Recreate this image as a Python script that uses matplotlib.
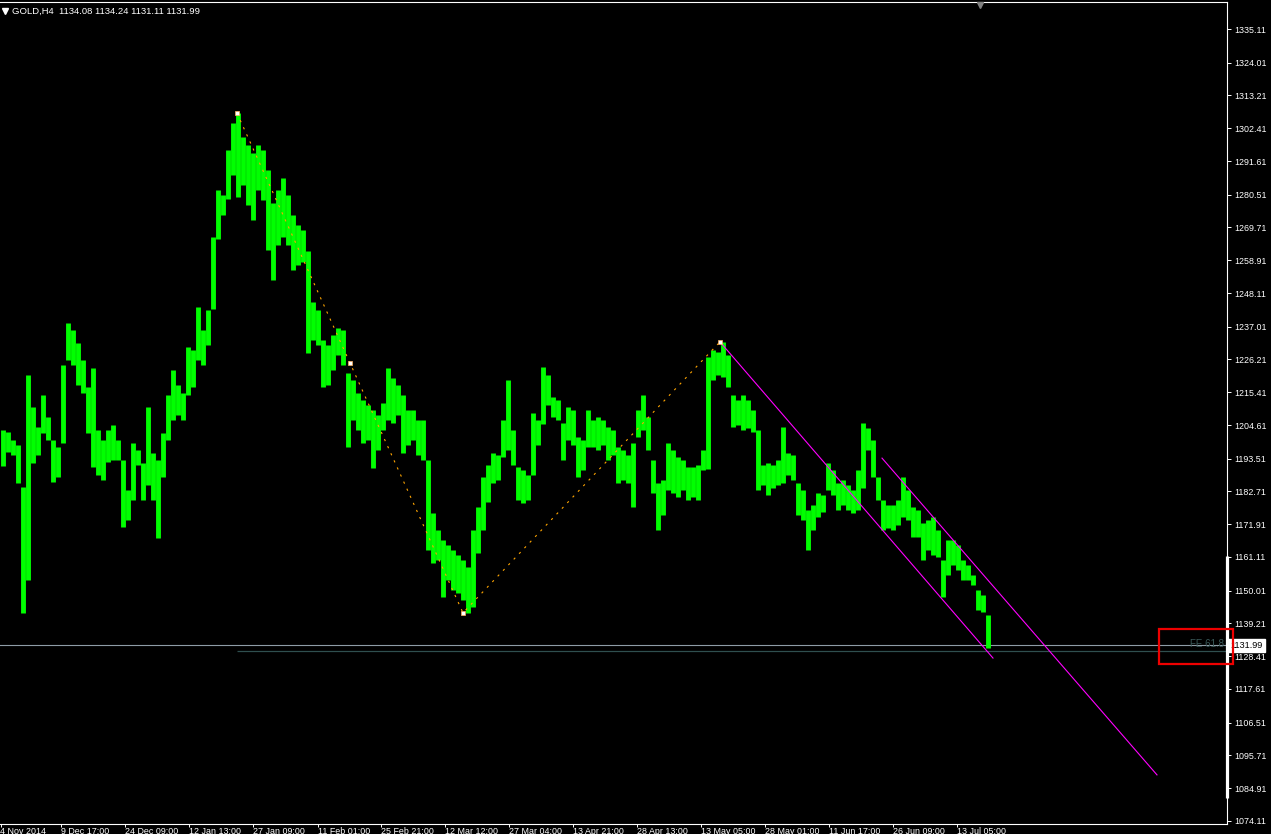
import matplotlib
matplotlib.use("Agg")
import matplotlib.pyplot as plt
import matplotlib.transforms as mtransforms
from matplotlib.patches import Rectangle

plt.rcParams['font.family'] = ['Liberation Sans', 'DejaVu Sans']

# ---------------- data ----------------
symbol = "GOLD,H4"
last_ohlc = [1134.08, 1134.24, 1131.11, 1131.99]

highs = [
    1203.0, 1202.3, 1199.7, 1198.0, 1184.2, 1221.1, 1210.5, 1203.9, 1214.5, 1207.2,
    1199.7, 1197.4, 1224.4, 1238.2, 1235.9, 1231.6, 1226.0, 1217.1, 1223.4, 1203.0,
    1199.7, 1203.0, 1204.6, 1199.7, 1193.0, 1183.2, 1198.7, 1196.4, 1192.0, 1210.5,
    1195.4, 1193.1, 1202.0, 1214.5, 1222.7, 1217.8, 1215.2, 1230.3, 1229.3, 1243.5,
    1235.9, 1242.5, 1266.6, 1282.1, 1280.4, 1295.2, 1304.1, 1307.4, 1299.5, 1296.9,
    1294.3, 1296.9, 1295.2, 1288.6, 1277.8, 1282.1, 1286.0, 1280.4, 1273.8, 1270.5,
    1268.9, 1262.0, 1245.1, 1242.5, 1232.6, 1231.0, 1234.3, 1236.6, 1235.9, 1221.7,
    1219.4, 1215.2, 1212.8, 1211.2, 1209.6, 1207.9, 1211.9, 1223.4, 1220.1, 1217.8,
    1214.5, 1209.6, 1209.6, 1206.3, 1206.3, 1193.0, 1175.6, 1170.0, 1166.7, 1165.1,
    1163.4, 1161.8, 1160.1, 1157.8, 1170.0, 1177.6, 1187.5, 1191.4, 1195.4, 1194.7,
    1206.3, 1219.4, 1203.0, 1190.8, 1189.8, 1188.1, 1208.6, 1206.3, 1223.7, 1221.1,
    1213.8, 1212.8, 1205.3, 1210.5, 1209.6, 1200.7, 1199.7, 1209.6, 1206.3, 1207.2,
    1206.3, 1203.9, 1203.0, 1197.4, 1196.4, 1194.7, 1198.7, 1209.6, 1214.5, 1207.2,
    1193.1, 1185.5, 1186.5, 1198.7, 1196.4, 1194.1, 1193.1, 1190.8, 1190.8, 1191.4,
    1196.4, 1227.0, 1229.3, 1228.7, 1232.0, 1227.7, 1214.5, 1212.8, 1214.5, 1212.8,
    1209.6, 1203.0, 1191.4, 1192.1, 1191.4, 1193.1, 1203.9, 1195.4, 1194.7, 1185.5,
    1183.2, 1176.6, 1178.2, 1182.2, 1181.6, 1192.1, 1189.8, 1185.5, 1186.5, 1184.8,
    1183.2, 1189.8, 1205.3, 1203.6, 1199.7, 1187.5, 1179.9, 1178.2, 1178.2, 1179.9,
    1187.5, 1183.2, 1177.6, 1176.6, 1172.3, 1173.3, 1174.3, 1170.0, 1160.1, 1166.7,
    1166.7, 1165.1, 1160.1, 1158.5, 1155.2, 1150.2, 1148.6, 1142.0,
]
lows = [
    1191.1, 1195.7, 1194.7, 1185.5, 1142.7, 1153.5, 1192.1, 1194.7, 1202.0, 1199.7,
    1185.8, 1187.5, 1198.7, 1226.0, 1224.4, 1217.8, 1215.2, 1202.0, 1190.8, 1188.1,
    1186.5, 1192.4, 1193.1, 1193.1, 1171.0, 1173.3, 1180.0, 1191.4, 1179.9, 1185.0,
    1179.9, 1167.4, 1187.5, 1199.7, 1206.3, 1207.9, 1206.3, 1214.5, 1217.1, 1226.0,
    1224.4, 1231.0, 1243.0, 1266.0, 1273.8, 1279.0, 1287.0, 1279.8, 1283.7, 1277.1,
    1272.2, 1282.1, 1278.8, 1262.3, 1252.4, 1263.9, 1266.6, 1263.9, 1255.7, 1257.3,
    1258.3, 1228.3, 1232.6, 1231.0, 1217.1, 1217.8, 1222.7, 1227.7, 1224.4, 1197.4,
    1206.3, 1203.0, 1198.7, 1199.7, 1190.4, 1196.4, 1203.0, 1206.3, 1205.3, 1207.9,
    1195.4, 1198.0, 1199.7, 1194.7, 1193.1, 1163.4, 1159.1, 1160.1, 1147.9, 1153.5,
    1150.2, 1149.2, 1146.9, 1142.7, 1144.6, 1162.4, 1170.0, 1179.2, 1185.5, 1186.5,
    1194.1, 1196.4, 1191.4, 1179.9, 1178.9, 1179.9, 1188.0, 1198.0, 1205.0, 1211.2,
    1207.2, 1206.3, 1193.1, 1199.7, 1198.0, 1187.5, 1189.8, 1197.4, 1197.4, 1196.4,
    1198.0, 1193.1, 1194.7, 1185.5, 1186.5, 1185.5, 1177.6, 1200.7, 1203.0, 1196.4,
    1182.2, 1170.0, 1175.0, 1183.2, 1182.2, 1180.9, 1183.2, 1179.9, 1180.9, 1179.9,
    1189.8, 1190.0, 1219.4, 1221.1, 1220.4, 1217.1, 1203.9, 1204.6, 1203.0, 1203.6,
    1202.3, 1183.2, 1184.8, 1181.6, 1183.9, 1184.8, 1185.5, 1188.1, 1186.5, 1175.0,
    1173.3, 1163.4, 1170.0, 1174.3, 1175.9, 1183.2, 1181.6, 1176.6, 1178.2, 1176.6,
    1175.6, 1176.6, 1184.0, 1196.4, 1187.5, 1179.9, 1170.0, 1170.7, 1170.0, 1171.6,
    1174.3, 1173.3, 1167.7, 1167.7, 1160.1, 1163.4, 1161.8, 1161.1, 1147.9, 1155.2,
    1158.5, 1156.8, 1153.5, 1153.5, 1151.9, 1143.6, 1143.0, 1131.1,
]

price_ticks = [1335.11, 1324.01, 1313.21, 1302.41, 1291.61, 1280.51, 1269.71,
               1258.91, 1248.11, 1237.01, 1226.21, 1215.41, 1204.61, 1193.51,
               1182.71, 1171.91, 1161.11, 1150.01, 1139.21, 1128.41, 1117.61,
               1106.51, 1095.71, 1084.91, 1074.11]

time_labels = ['4 Nov 2014', '9 Dec 17:00', '24 Dec 09:00', '12 Jan 13:00',
               '27 Jan 09:00', '11 Feb 01:00', '25 Feb 21:00', '12 Mar 12:00',
               '27 Mar 04:00', '13 Apr 21:00', '28 Apr 13:00', '13 May 05:00',
               '28 May 01:00', '11 Jun 17:00', '26 Jun 09:00', '13 Jul 05:00']
time_tick_bars = [-0.4, 11.7, 24.5, 37.3, 50.1, 63.1, 75.7, 88.5, 101.3,
                  114.1, 126.9, 139.7, 152.5, 165.3, 178.1, 190.9]

# Fibonacci expansion anchors (A, B, C)
fib_bars = [46.9, 92.1, 143.5]
fib_prices = [1307.4, 1142.7, 1232.0]
fe_ratio = 0.618

# descending channel (magenta)
chan_lower_bars, chan_lower_prices = [143.5, 198.1], [1232.0, 1127.8]
chan_upper_bars, chan_upper_prices = [175.9, 230.9], [1193.7, 1089.3]

bid = last_ohlc[3]
range_marker = [1161.4, 1081.7]      # white bar on price scale
highlight_prices = [1125.9, 1137.4]  # red box around FE level / bid

# ---------------- figure ----------------
W, H = 1271, 834
fig = plt.figure(figsize=(W / 100, H / 100), dpi=100, facecolor='black')
ax = fig.add_axes([0, 10 / H, 1227 / W, 822 / H])
ax.set_facecolor('black')
ax.set_xlim(-0.5, 244.9)
ax.set_ylim(1073.12, 1344.01)

idx = list(range(len(highs)))
ax.vlines(idx, lows, highs, colors='#00FF00', linewidth=3.5, capstyle='butt', zorder=3)

# bid line and FE level
ax.axhline(bid, color='#8E9CA6', lw=0.8, zorder=2)
A, B, C = fib_prices
fe_level = C - fe_ratio * (A - B)
ax.hlines(fe_level, fib_bars[0], 244.9, color='#2F4F4F', lw=0.9, zorder=2)
ax.annotate('FE 61.8', xy=(1, fe_level), xycoords=('axes fraction', 'data'),
            xytext=(-2, 1.5), textcoords='offset points', ha='right', va='bottom',
            color='#3A5858', fontsize=7, annotation_clip=False, zorder=4)

# fibonacci dotted legs
ax.plot(fib_bars, fib_prices, color='#FFA500', lw=0.8, linestyle=(0, (2, 5)), zorder=4)
mid_bar = (fib_bars[0] + fib_bars[1]) / 2
mid_price = (fib_prices[0] + fib_prices[1]) / 2
ax.plot(fib_bars + [mid_bar], fib_prices + [mid_price], 's', ms=3.2,
        mfc='white', mec='#FFB060', mew=0.5, zorder=5)

# channel
ax.plot(chan_lower_bars, chan_lower_prices, color='#FF00FF', lw=0.8, zorder=4)
ax.plot(chan_upper_bars, chan_upper_prices, color='#FF00FF', lw=0.8, zorder=4)

# spines and ticks
for s in ['top', 'right', 'bottom']:
    ax.spines[s].set_color('white')
    ax.spines[s].set_linewidth(0.8)
ax.spines['left'].set_visible(False)

ax.yaxis.tick_right()
ax.set_yticks(price_ticks)
ax.set_yticklabels([f'{p:.2f}' for p in price_ticks])
ax.tick_params(axis='y', colors='white', labelsize=6.4, length=3, width=0.7, pad=2)

ax.set_xticks(time_tick_bars)
ax.set_xticklabels(time_labels, ha='left')
ax.tick_params(axis='x', colors='white', labelsize=6.4, length=2, width=0.7, pad=0.2)

# current price label
ax.annotate(f'{bid:.2f}', xy=(1, bid), xycoords=('axes fraction', 'data'),
            xytext=(2.4, 0), textcoords='offset points', ha='left', va='center',
            color='black', fontsize=6.6, annotation_clip=False, zorder=6,
            bbox=dict(boxstyle='square,pad=0.25', fc='white', ec='white'))

# white range bar on price scale
blend = mtransforms.blended_transform_factory(ax.transAxes, ax.transData)
ax.plot([1, 1], range_marker, transform=blend, color='white', lw=2.3,
        solid_capstyle='butt', clip_on=False, zorder=6)

# red highlight box
ax.add_patch(Rectangle((0.9446, highlight_prices[0]), 0.060,
                       highlight_prices[1] - highlight_prices[0], transform=blend,
                       fill=False, ec='#EE0000', lw=1.6, clip_on=False, zorder=7))

# chart shift marker at the top
ax.plot([0.799], [0.996], marker='v', ms=5, color='#808080', transform=ax.transAxes,
        clip_on=False, zorder=6)

# header
fig.text(12 / W, 1 - 11 / H, f"{symbol}  " + " ".join(f"{v:.2f}" for v in last_ohlc),
         color='white', fontsize=6.8, va='center', ha='left')
fig.add_artist(plt.Line2D([4.5 / W], [1 - 11 / H], marker='v', ms=4, color='white',
                          transform=fig.transFigure))

fig.savefig('out.png', dpi=100, facecolor='black')
